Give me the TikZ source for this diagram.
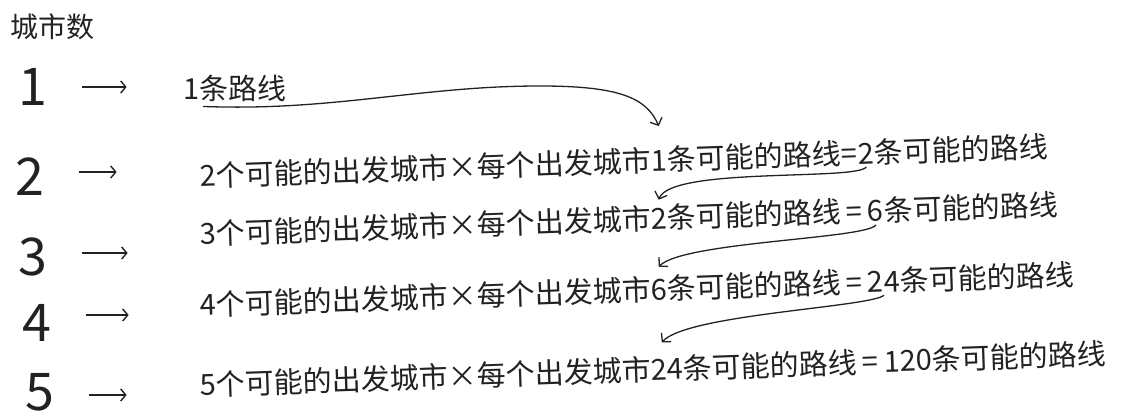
\documentclass[tikz,border=0pt]{standalone}
\usepackage{fontspec}
\newfontfamily\cjk{Noto Sans CJK SC}
\usetikzlibrary{arrows.meta,positioning}
\definecolor{ink}{HTML}{222222}

\begin{document}
\begin{tikzpicture}[
  x=1pt,y=1pt,
  head/.style={font=\cjk\fontsize{28}{32}\selectfont,inner sep=0pt,text=ink},
  citynum/.style={font=\cjk\fontsize{52}{56}\selectfont,inner sep=0pt,text=ink},
  rowarrow/.style={draw=ink,line width=1.4pt,-{Straight Barb[length=5pt,width=12pt]}},
  rowtext/.style={font=\cjk\fontsize{29}{33}\selectfont,inner sep=0pt,anchor=base west,text=ink},
  tilted/.style={rowtext,rotate=2},
  curl/.style={draw=ink,line width=1.3pt,-{Straight Barb[length=6pt,width=13pt]}},
  node distance=34pt
]
\useasboundingbox (0,0) rectangle (1128,417);
\node[head] (title) at (52,390) {城市数};
% city counts
\node[citynum] (n1) at (33,330) {1};
\node[citynum] (n2) at (30,240) {2};
\node[citynum] (n3) at (33,160) {3};
\node[citynum] (n4) at (37,94) {4};
\node[citynum] (n5) at (40,25) {5};
\coordinate[right=of n1] (a1s);
\coordinate[right=45pt of a1s] (a1e);
\coordinate[right=of n2,yshift=5pt] (a2s);
\coordinate[right=38pt of a2s] (a2e);
\coordinate[right=of n3,yshift=4pt] (a3s);
\coordinate[right=46pt of a3s] (a3e);
\coordinate[right=of n4,yshift=8pt] (a4s);
\coordinate[right=43pt of a4s] (a4e);
\coordinate[right=of n5,yshift=-3pt] (a5s);
\coordinate[right=38pt of a5s] (a5e);
\draw[rowarrow] (a1s) -- (a1e);
\draw[rowarrow] (a2s) -- (a2e);
\draw[rowarrow] (a3s) -- (a3e);
\draw[rowarrow] (a4s) -- (a4e);
\draw[rowarrow] (a5s) -- (a5e);
% row 1
\node[rowtext] (r1) at (183,317) {1条路线};
% row 2
\node[tilted] (r2a) at (200,230) {2个可能的出发城市×每个出发城市};
\node[tilted] (r2b) at (r2a.base east) {1};
\node[tilted] (r2c) at (r2b.base east) {条可能的路线=};
\node[tilted] (r2d) at (r2c.base east) {2};
\node[tilted] (r2e) at (r2d.base east) {条可能的路线};
% row 3
\node[tilted] (r3a) at (200,172) {3个可能的出发城市×每个出发城市};
\node[tilted] (r3b) at (r3a.base east) {2};
\node[tilted] (r3c) at (r3b.base east) {条可能的路线\,=\,};
\node[tilted] (r3d) at (r3c.base east) {6};
\node[tilted] (r3e) at (r3d.base east) {条可能的路线};
% row 4
\node[tilted] (r4a) at (200,101) {4个可能的出发城市×每个出发城市};
\node[tilted] (r4b) at (r4a.base east) {6};
\node[tilted] (r4c) at (r4b.base east) {条可能的路线\,=\,};
\node[tilted] (r4d) at (r4c.base east) {24};
\node[tilted] (r4e) at (r4d.base east) {条可能的路线};
% row 5
\node[tilted] (r5a) at (200,21) {5个可能的出发城市×每个出发城市};
\node[tilted] (r5b) at (r5a.base east) {24};
\node[tilted] (r5c) at (r5b.base east) {条可能的路线\,=\,};
\node[tilted] (r5d) at (r5c.base east) {120};
\node[tilted] (r5e) at (r5d.base east) {条可能的路线};
% carried-over counts
\coordinate (bend1) at (540,331);
\draw[curl] ([xshift=20pt,yshift=-4pt]r1.south west) .. controls +(130,-5) and +(-120,0) .. (bend1)
  .. controls +(80,0) and +(-12,28) .. ([yshift=24pt]r2b.north);
\draw[curl] ([yshift=-3pt]r2d.south) .. controls +(-9,-14) and +(12,33) .. ([yshift=8pt]r3b.north);
\draw[curl] ([yshift=-3pt]r3d.south) .. controls +(-10,-14) and +(25,25) .. ([yshift=12pt]r4b.north);
\draw[curl] ([yshift=-3pt]r4d.south) .. controls +(-15,-12) and +(25,28) .. ([xshift=-5pt,yshift=16pt]r5b.north);
\end{tikzpicture}
\end{document}
